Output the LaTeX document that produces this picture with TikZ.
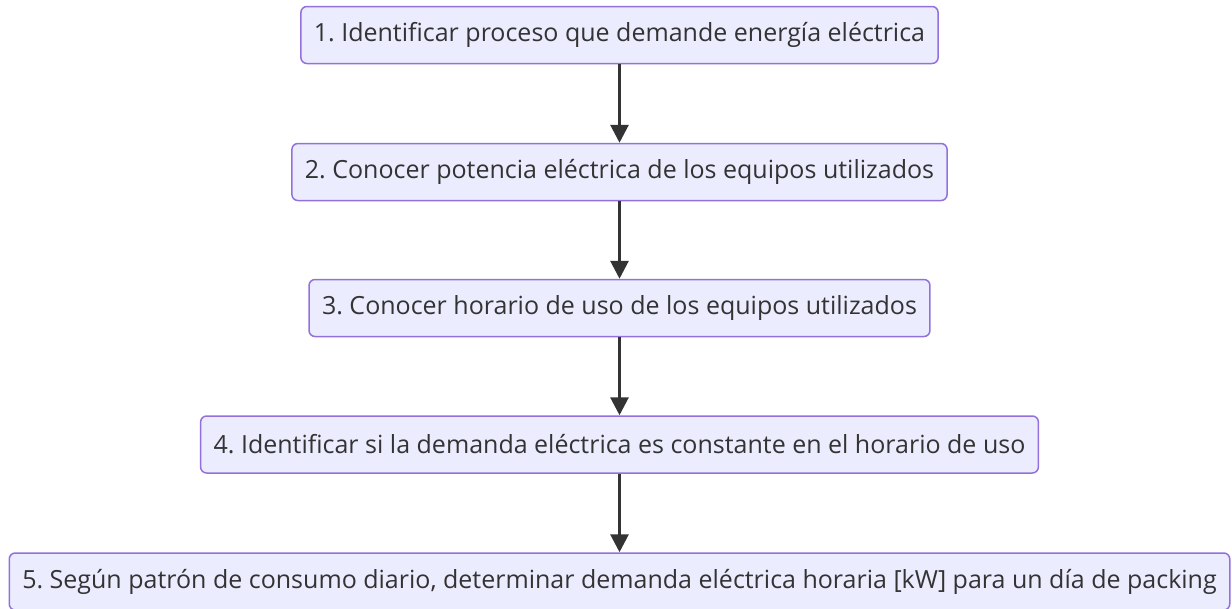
\documentclass[tikz,border=0pt]{standalone}
\usepackage{fontspec}
\setmainfont{Open Sans}
\usetikzlibrary{arrows.meta}
\definecolor{boxfill}{HTML}{ECECFF}
\definecolor{boxline}{HTML}{9370DB}
\definecolor{inkgray}{HTML}{333333}
\frenchspacing
\begin{document}
\begin{tikzpicture}[x=1pt, y=-1pt, font=\fontsize{25}{29}\selectfont]
    \tikzstyle{stepbox}=[draw=boxline, fill=boxfill, line width=1.5pt, rounded corners=6pt, text=inkgray, minimum height=57pt, inner xsep=13pt, align=center]
    \tikzstyle{flow}=[-{Triangle[length=18pt, width=18pt]}, line width=3pt, inkgray]

    \useasboundingbox (0,0) rectangle (1232,608);

    \node[stepbox] (s1) at (619.5,35) {1. Identificar proceso que demande energía eléctrica};
    \node[stepbox] (s2) at (619.5,172) {2. Conocer potencia eléctrica de los equipos utilizados};
    \node[stepbox] (s3) at (619.5,308) {3. Conocer horario de uso de los equipos utilizados};
    \node[stepbox] (s4) at (619.5,444.5) {4. Identificar si la demanda eléctrica es constante en el horario de uso};
    \node[stepbox] (s5) at (619.5,581.5) {5. Según patrón de consumo diario, determinar demanda eléctrica horaria [kW] para un día de packing};

    \draw[flow] (s1) -- (s2);
    \draw[flow] (s2) -- (s3);
    \draw[flow] (s3) -- (s4);
    \draw[flow] (s4) -- (s5);
\end{tikzpicture}
\end{document}
